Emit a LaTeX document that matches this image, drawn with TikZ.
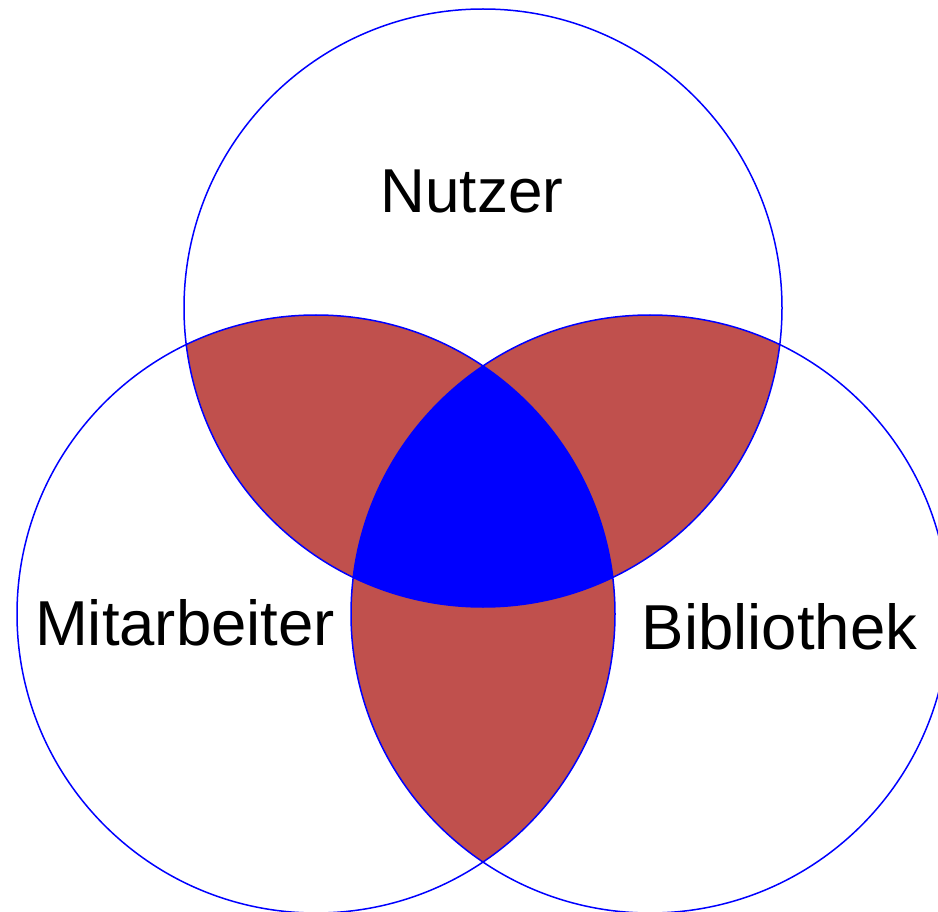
\documentclass[tikz,border=0pt]{standalone}
\usepackage{fontspec}
\setmainfont{Liberation Sans}
\definecolor{overlapred}{HTML}{C0504D}
\definecolor{ringblue}{HTML}{0000FF}
\begin{document}
\begin{tikzpicture}[x=1pt,y=-1pt,
  ring/.style={draw=ringblue,line width=1.5pt},
  setlabel/.style={anchor=base,inner sep=0pt,font=\fontsize{63.5}{76}\selectfont}]
  \useasboundingbox (0,0) rectangle (938,912);
  \def\rad{299}
  \coordinate (T) at (483,308);
  \coordinate (L) at (316,614);
  \coordinate (R) at (650,614);
  % pairwise overlaps
  \begin{scope}
    \clip (T) circle (\rad);
    \fill[overlapred] (L) circle (\rad);
    \fill[overlapred] (R) circle (\rad);
  \end{scope}
  \begin{scope}
    \clip (L) circle (\rad);
    \fill[overlapred] (R) circle (\rad);
  \end{scope}
  % common part of all three
  \begin{scope}
    \clip (T) circle (\rad);
    \clip (L) circle (\rad);
    \fill[ringblue] (R) circle (\rad);
  \end{scope}
  % outlines
  \draw[ring] (T) circle (\rad);
  \draw[ring] (L) circle (\rad);
  \draw[ring] (R) circle (\rad);
  % labels
  \node[setlabel,font=\fontsize{62}{74}\selectfont] (nutzer) at (472,213) {Nutzer};
  \node[setlabel] (mitarbeiter) at (185,645) {Mitarbeiter};
  \node[setlabel] (bibliothek) at (779.5,649) {Bibliothek};
\end{tikzpicture}
\end{document}
